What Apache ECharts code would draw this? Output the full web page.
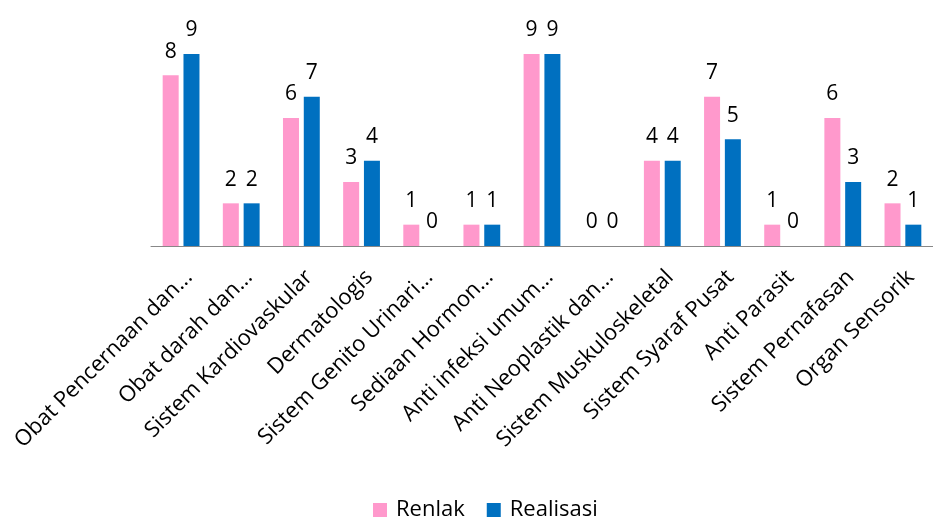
<!DOCTYPE html>
<html>
<head>
<meta charset="utf-8">
<script src="https://cdn.jsdelivr.net/npm/echarts@6/dist/echarts.min.js"></script>
<style>html,body{margin:0;padding:0;background:#fff}#c{width:933px;height:518px}</style>
</head>
<body>
<div id="c"></div>
<script>
const categories = ["Obat Pencernaan dan...", "Obat darah dan...", "Sistem Kardiovaskular", "Dermatologis", "Sistem Genito Urinari...", "Sediaan Hormon...", "Anti infeksi umum...", "Anti Neoplastik dan...", "Sistem Muskuloskeletal", "Sistem Syaraf Pusat", "Anti Parasit", "Sistem Pernafasan", "Organ Sensorik"];
const renlak = [8, 2, 6, 3, 1, 1, 9, 0, 4, 7, 1, 6, 2];
const realisasi = [9, 2, 7, 4, 0, 1, 9, 0, 4, 5, 0, 3, 1];

const FONT = 'Open Sans';
const chart = echarts.init(document.getElementById('c'), null, {renderer: 'canvas'});
const labelStyle = {show: true, position: 'top', distance: 13, fontSize: 21, color: '#000', fontFamily: FONT};
chart.setOption({
  animation: false,
  textStyle: {fontFamily: FONT},
  legend: {
    top: 494, left: 368, itemWidth: 14, itemHeight: 14, itemGap: 22,
    icon: 'rect',
    textStyle: {fontSize: 22, color: '#000', fontFamily: FONT, padding: [0, 0, 0, 4]},
    data: ['Renlak', 'Realisasi']
  },
  grid: {left: 151, right: 0, top: 54, bottom: 272, containLabel: false},
  xAxis: {
    type: 'category', data: categories,
    axisLine: {lineStyle: {color: '#888', width: 1}},
    axisTick: {show: false},
    axisLabel: {rotate: 45, interval: 0, fontSize: 22, color: '#000', margin: 20, verticalAlign: 'top', fontFamily: FONT}
  },
  yAxis: {type: 'value', min: 0, max: 9, show: false, splitLine: {show: false}},
  series: [
    {name: 'Renlak', type: 'bar', data: renlak, barWidth: 16, barGap: '30%', itemStyle: {color: '#FF99CC'}, label: labelStyle},
    {name: 'Realisasi', type: 'bar', data: realisasi, barWidth: 16, barGap: '30%', itemStyle: {color: '#0070C0'}, label: labelStyle}
  ]
});
</script>
</body>
</html>
